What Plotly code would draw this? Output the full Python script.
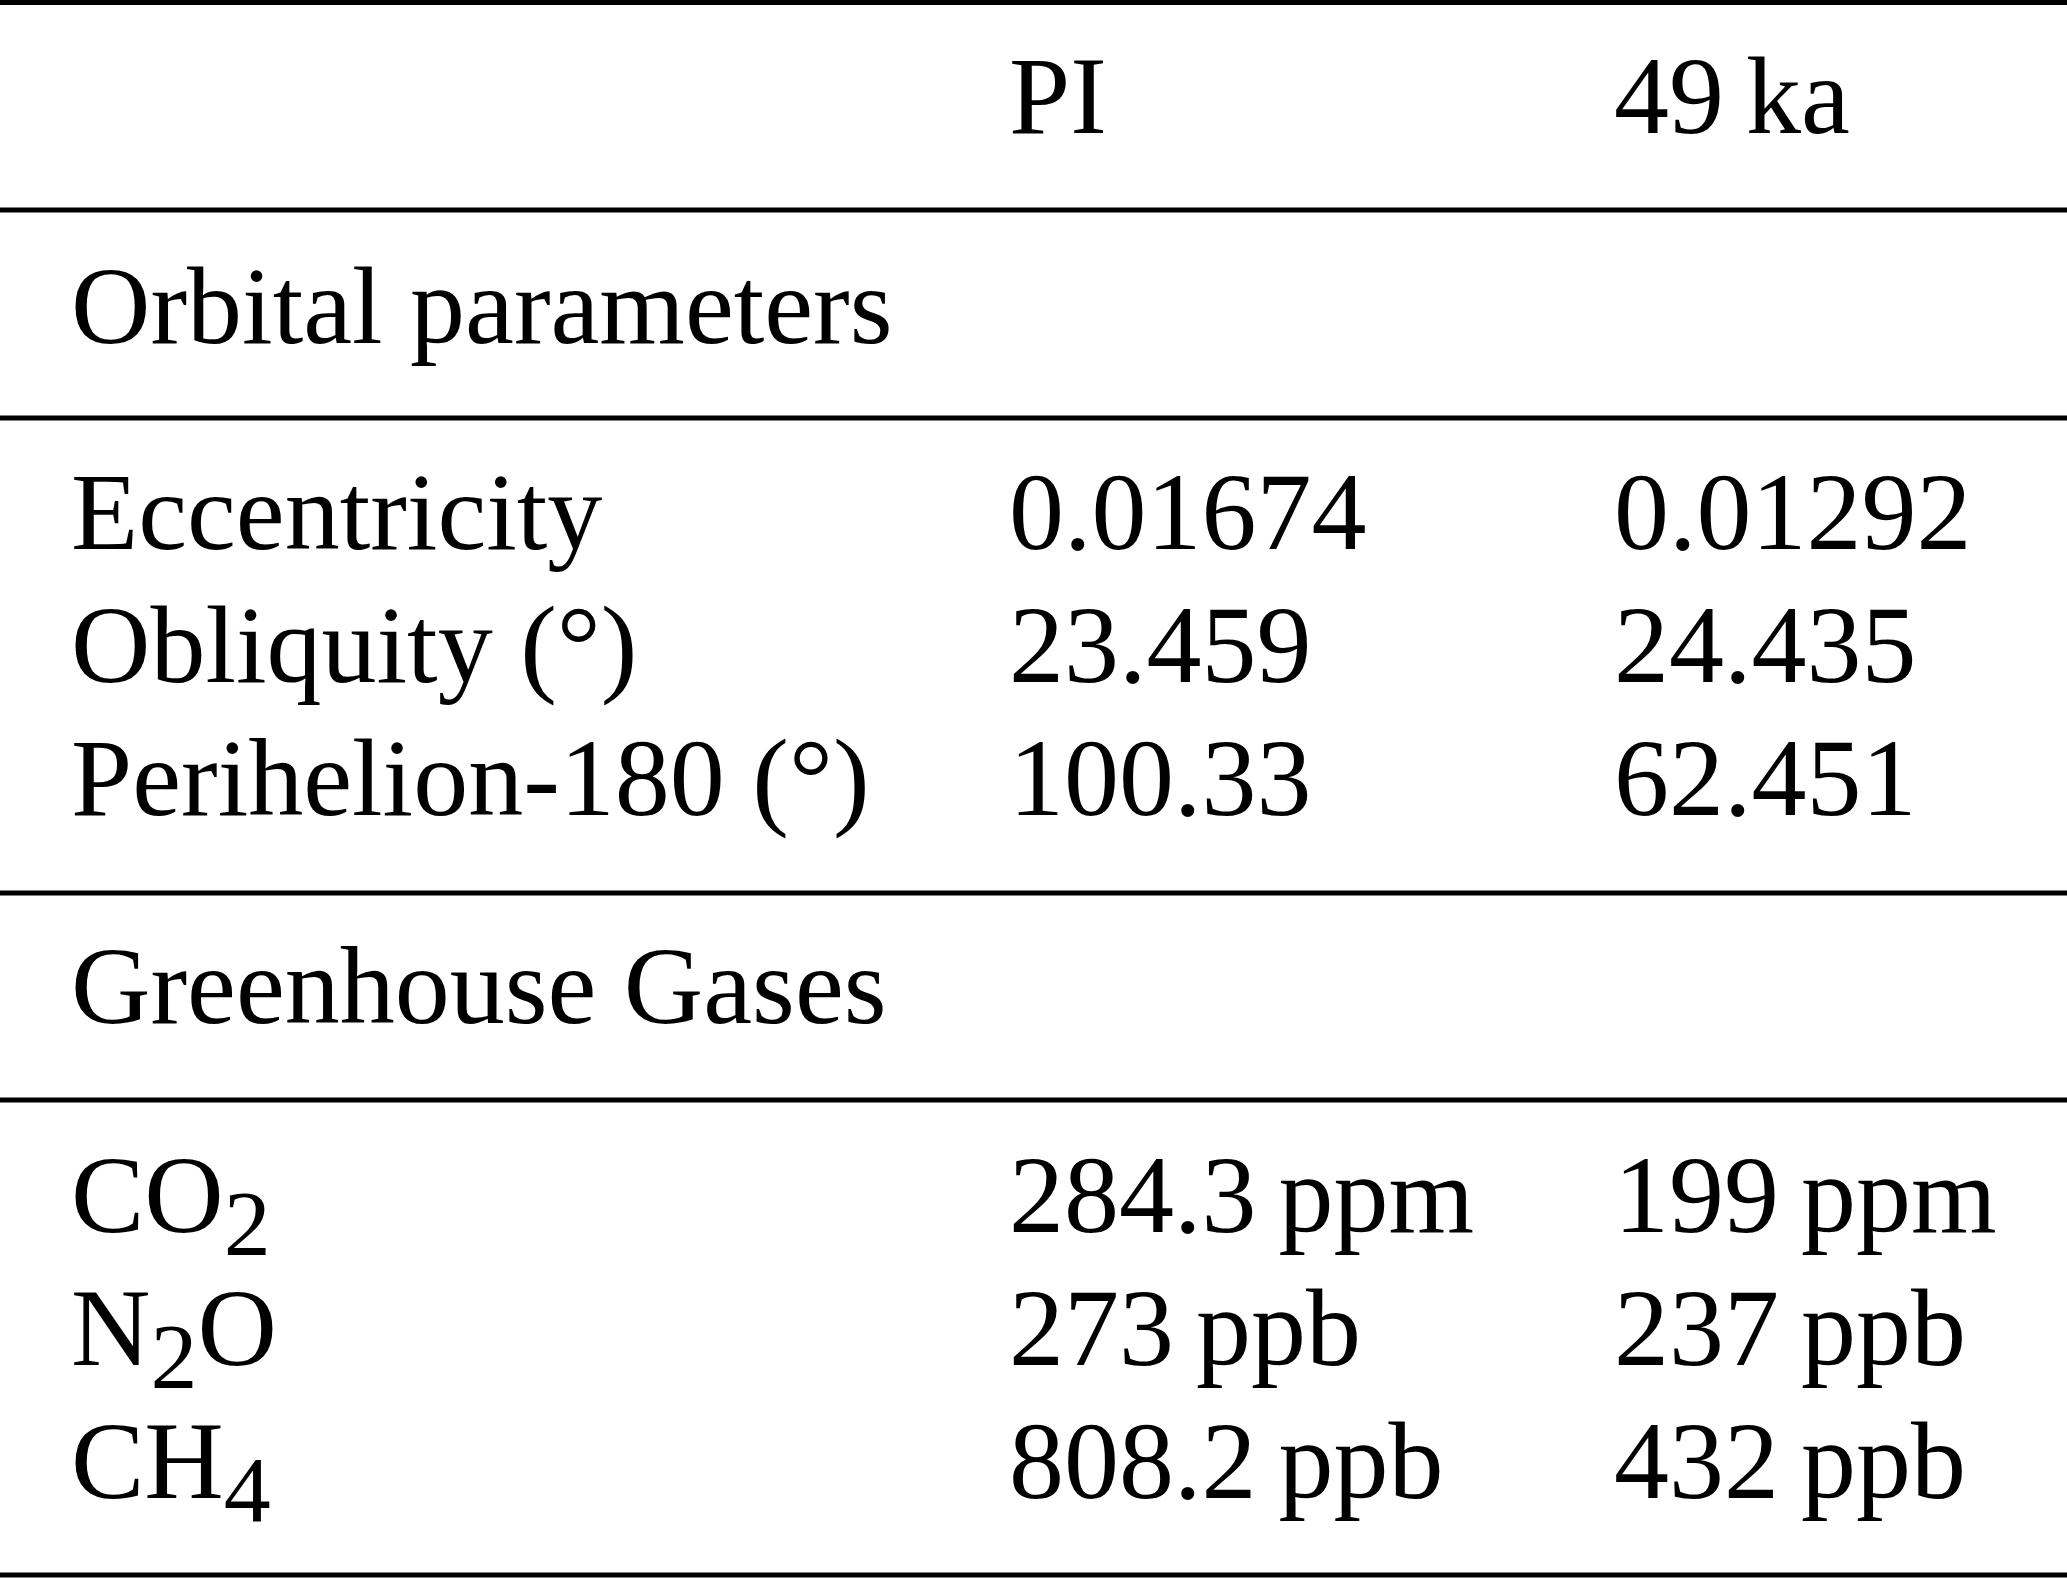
import plotly.graph_objects as go

# table content
col_heads = ["PI", "49\u2009ka"]
sections = ["Orbital parameters", "Greenhouse Gases"]

orbital_names = ["Eccentricity", "Obliquity (°)", "Perihelion-180 (°)"]
orbital_pi = ["0.01674", "23.459", "100.33"]
orbital_49ka = ["0.01292", "24.435", "62.451"]

sub = '<sub><span style="font-size:94px">{}</span></sub>'
ghg_names = ["CO" + sub.format("2"), "N" + sub.format("2") + "O", "CH" + sub.format("4")]
ghg_pi = ["284.3\u2009ppm", "273\u2009ppb", "808.2\u2009ppb"]
ghg_49ka = ["199\u2009ppm", "237\u2009ppb", "432\u2009ppb"]

# layout (pixels)
W, H = 2067, 1578
FS = 110
FONT = dict(family="Liberation Serif, Times New Roman, serif", size=FS, color="black")
col_x = [71, 1009, 1614]
head_base = 133
section_base = [343, 1023]
orbital_base = [549, 682, 815]
ghg_base = [1232, 1365, 1498]
rule_y = [2.5, 210, 418, 893, 1100, 1575]


def ypos(baselines):
    # text is centred on y, baseline sits a quarter em below
    return [b - 0.25 * FS for b in baselines]


fig = go.Figure()


def add_col(x, baselines, texts):
    fig.add_trace(go.Scatter(
        x=[x] * len(texts), y=ypos(baselines), text=texts,
        mode="text", textposition="middle right",
        textfont=FONT, hoverinfo="skip", showlegend=False,
    ))


add_col(col_x[1], [head_base], [col_heads[0]])
add_col(col_x[2], [head_base], [col_heads[1]])
add_col(col_x[0], section_base, sections)
add_col(col_x[0], orbital_base, orbital_names)
add_col(col_x[1], orbital_base, orbital_pi)
add_col(col_x[2], orbital_base, orbital_49ka)
add_col(col_x[0], ghg_base, ghg_names)
add_col(col_x[1], ghg_base, ghg_pi)
add_col(col_x[2], ghg_base, ghg_49ka)

for y in rule_y:
    fig.add_shape(type="line", xref="x", yref="y", x0=0, x1=W, y0=y, y1=y,
                  line=dict(color="black", width=5))

fig.update_layout(
    width=W, height=H,
    margin=dict(l=0, r=0, t=0, b=0),
    paper_bgcolor="white", plot_bgcolor="white",
    xaxis=dict(range=[0, W], visible=False, fixedrange=True),
    yaxis=dict(range=[H, 0], visible=False, fixedrange=True),
    hovermode=False,
)

# drop the page's default body margin so the figure sits at the window corner
fig.write_html("out.html", config={"displayModeBar": False},
               post_script="document.body.style.margin='0';")
